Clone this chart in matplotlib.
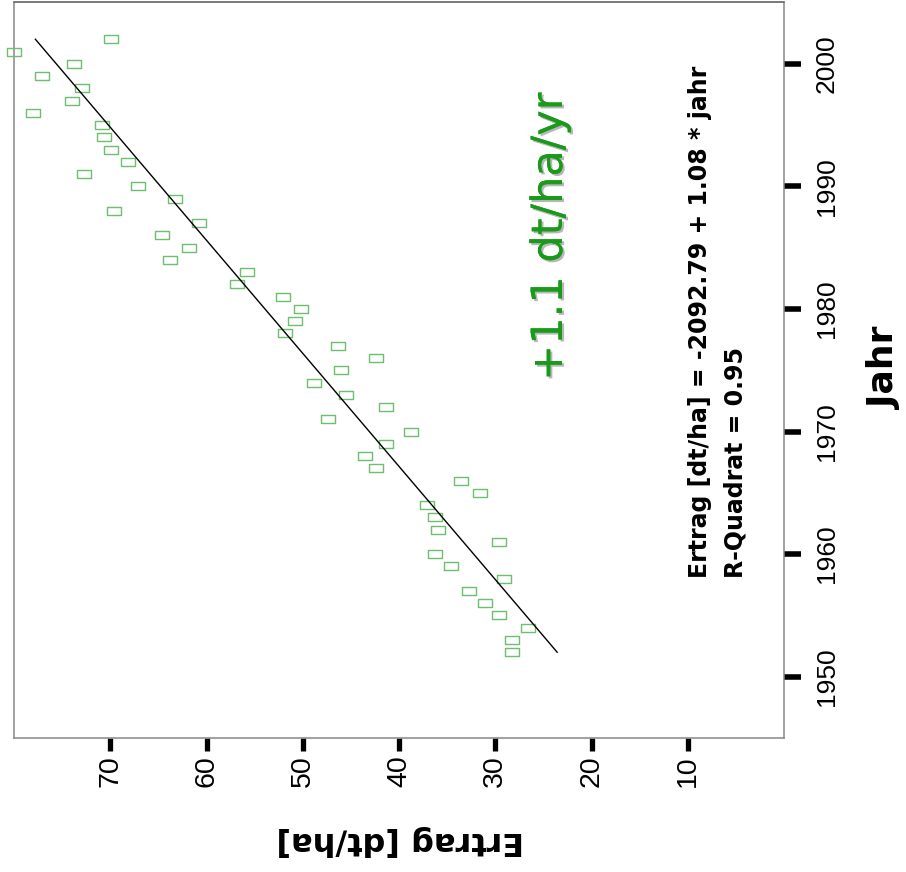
import numpy as np
import matplotlib
matplotlib.use("Agg")
import matplotlib.pyplot as plt
from matplotlib.path import Path
import matplotlib.patheffects as pe

# ---- data ----
years = list(range(1952, 2003))
ertrag = [28.3, 28.3, 26.6, 29.6, 31.1, 32.7, 29.1, 34.6, 36.3, 29.6,
          36.0, 36.3, 37.1, 31.6, 33.6, 42.4, 43.5, 41.3, 38.8, 47.4,
          41.3, 45.5, 48.8, 46.0, 42.4, 46.3, 51.8, 50.8, 50.2, 52.1,
          56.8, 55.8, 63.8, 61.8, 64.6, 60.8, 69.6, 63.3, 67.1, 72.7,
          68.2, 69.9, 70.7, 70.9, 78.0, 74.0, 72.9, 77.1, 73.8, 80.0,
          69.9]
fit_intercept = -2092.79
fit_slope = 1.0842
fit_years = [1952, 2002]
ertrag_ticks = [70, 60, 50, 40, 30, 20, 10]
jahr_ticks = [1950, 1960, 1970, 1980, 1990, 2000]

W, H = 906, 872
fig = plt.figure(figsize=(W / 100, H / 100), dpi=100)
ax = fig.add_axes([14 / W, 1 - 738 / H, (784 - 14) / W, (738 - 2.5) / H])

rect = Path([(-1, -0.55), (1, -0.55), (1, 0.55), (-1, 0.55), (-1, -0.55)],
            [Path.MOVETO, Path.LINETO, Path.LINETO, Path.LINETO, Path.CLOSEPOLY])
ax.plot(ertrag, years, ls='none', marker=rect, ms=10.5, mfc='none',
        mec='#6dbf6d', mew=1.0, clip_on=False, zorder=3)

fy = np.array(fit_years, dtype=float)
ax.plot(fit_intercept + fit_slope * fy, fy, color='black', lw=1.0, zorder=4)

ax.set_xlim(80, 0)
ax.set_ylim(1945, 2005)
ax.set_xticks(ertrag_ticks)
ax.set_xticklabels([str(t) for t in ertrag_ticks])
ax.set_yticks(jahr_ticks)
ax.set_yticklabels([str(t) for t in jahr_ticks])
ax.yaxis.tick_right()

ax.tick_params(axis='x', direction='out', length=9.4, width=3.8, color='black',
               labelsize=20.5, pad=3, labelrotation=90)
ax.tick_params(axis='y', direction='out', length=12.2, width=4.0, color='black',
               labelsize=19, pad=10)
for lab in ax.get_yticklabels():
    lab.set_rotation(90)
    lab.set_va('center')
    lab.set_ha('left')
    lab.set_family('Liberation Sans')
for lab in ax.get_xticklabels():
    lab.set_va('top')
    lab.set_ha('center')
    lab.set_family('Liberation Sans')

for s in ax.spines.values():
    s.set_color('#888888')
    s.set_linewidth(1.1)
ax.spines['top'].set_color('#555555')

# axis titles
fig.text(400 / W, 1 - 840 / H, 'Ertrag [dt/ha]', rotation=180, fontsize=23,
         fontweight='bold', ha='center', va='center')
fig.text(885 / W, 1 - 368 / H, 'Jahr', rotation=90, fontsize=26,
         fontweight='bold', ha='center', va='center')

# annotation texts
fig.text(550 / W, 1 - 237 / H, '+1.1 dt/ha/yr', rotation=90, fontsize=31,
         color='#1a9a1a', ha='center', va='center',
         path_effects=[pe.withSimplePatchShadow(offset=(1.5, -1.5),
                                                shadow_rgbFace='#888888',
                                                alpha=0.6),
                       pe.Normal()])
fig.text(700 / W, 1 - 578 / H, 'Ertrag [dt/ha] = -2092.79 + 1.08 * jahr',
         rotation=90, rotation_mode='anchor', fontsize=17, fontweight='bold',
         ha='left', va='center')
fig.text(735 / W, 1 - 578 / H, 'R-Quadrat = 0.95',
         rotation=90, rotation_mode='anchor', fontsize=17, fontweight='bold',
         ha='left', va='center')

fig.savefig('out.png', dpi=100)
